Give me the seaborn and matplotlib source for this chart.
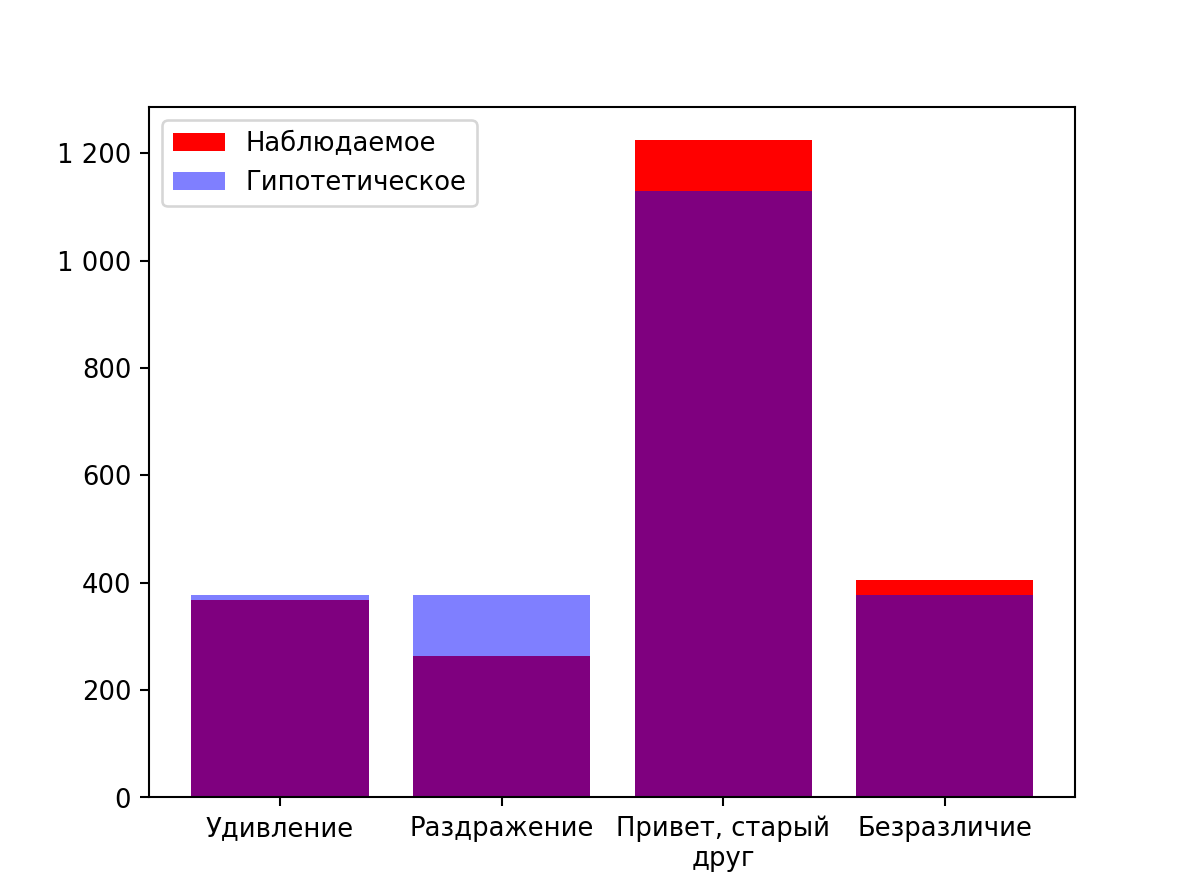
import matplotlib
matplotlib.use("Agg")
import matplotlib.pyplot as plt
import seaborn as sns
from matplotlib.patches import Patch
from matplotlib.ticker import FuncFormatter

categories = ["Удивление", "Раздражение", "Привет, старый\nдруг", "Безразличие"]
observed = [368, 263, 1224, 405]
expected = [376.7, 376.7, 1130, 376.7]

fig, ax = plt.subplots(figsize=(6.4, 4.8), dpi=186.7)

sns.barplot(x=categories, y=observed, color="red", saturation=1, linewidth=0, ax=ax)
sns.barplot(x=categories, y=expected, color="blue", alpha=0.5, saturation=1, linewidth=0, ax=ax)

ax.set_xlim(-0.59, 3.59)
ax.yaxis.set_major_formatter(FuncFormatter(lambda v, p: f"{v:,.0f}".replace(",", " ")))

handles = [Patch(facecolor="red", linewidth=0, label="Наблюдаемое"),
           Patch(facecolor="blue", alpha=0.5, linewidth=0, label="Гипотетическое")]
ax.legend(handles=handles, loc="upper left")

plt.savefig("out.png", dpi=186.7)
